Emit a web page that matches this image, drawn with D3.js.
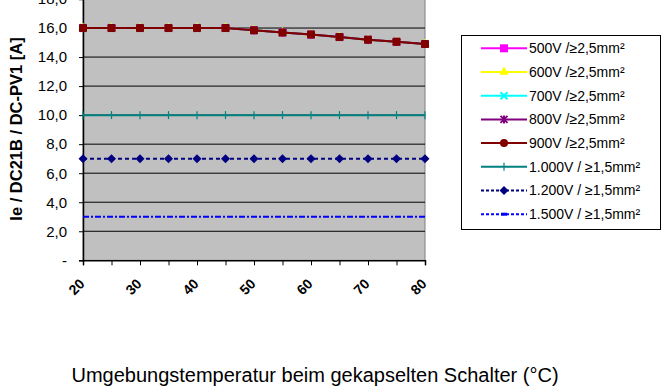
<!DOCTYPE html>
<html>
<head>
<meta charset="utf-8">
<script src="https://cdn.jsdelivr.net/npm/d3@7"></script>
<style>
  html, body { margin: 0; padding: 0; background: #fff; }
  svg { display: block; font-family: "Liberation Sans", Arial, sans-serif; }
</style>
</head>
<body>
<svg id="chart" width="662" height="387"></svg>
<script>
// Ambient temperature categories (°C)
const temperatures = [20, 25, 30, 35, 40, 45, 50, 55, 60, 65, 70, 75, 80];
const xTickLabels = [20, 30, 40, 50, 60, 70, 80];
const yTicks = [0, 2, 4, 6, 8, 10, 12, 14, 16, 18];

// Rated current per voltage / cable cross-section
const derated = [16, 16, 16, 16, 16, 16, 15.85, 15.7, 15.55, 15.38, 15.2, 15.05, 14.9];
const v500 = derated.slice();
const v600 = derated.slice();
const v700 = derated.slice();
const v800 = derated.slice();
const v900 = derated.slice();
const v1000 = [10, 10, 10, 10, 10, 10, 10, 10, 10, 10, 10, 10, 10];
const v1200 = [7, 7, 7, 7, 7, 7, 7, 7, 7, 7, 7, 7, 7];
const v1500 = [3, 3, 3, 3, 3, 3, 3, 3, 3, 3, 3, 3, 3];

const seriesNames = [
  "500V /≥2,5mm²", "600V /≥2,5mm²", "700V /≥2,5mm²", "800V /≥2,5mm²",
  "900V /≥2,5mm²", "1.000V / ≥1,5mm²", "1.200V / ≥1,5mm²", "1.500V / ≥1,5mm²"
];
const seriesValues = [v500, v600, v700, v800, v900, v1000, v1200, v1500];
const seriesStyles = [
  { color: "#FF00FF", marker: "square", dash: null },
  { color: "#FFFF00", marker: "triangle", dash: null },
  { color: "#00FFFF", marker: "cross", dash: null },
  { color: "#800080", marker: "star", dash: null },
  { color: "#800000", marker: "circle", dash: null },
  { color: "#008080", marker: "plus", dash: null },
  { color: "#000080", marker: "diamond", dash: "4,3" },
  { color: "#0000FF", marker: "none", dash: "6,2,2,2" }
];

const svg = d3.select("#chart");
const plot = { left: 83, right: 425, top: -1, bottom: 260.3 };

const x = d3.scalePoint().domain(temperatures).range([plot.left, plot.right]);
const y = d3.scaleLinear().domain([0, 18]).range([plot.bottom, plot.top]);

// Plot area
svg.append("rect")
  .attr("x", plot.left).attr("y", plot.top)
  .attr("width", plot.right - plot.left).attr("height", plot.bottom - plot.top)
  .attr("fill", "#C0C0C0").attr("stroke", "#808080").attr("stroke-width", 1);

// Horizontal grid lines
svg.append("g").selectAll("line")
  .data(yTicks.filter(d => d > 0))
  .join("line")
  .attr("x1", plot.left).attr("x2", plot.right)
  .attr("y1", d => y(d)).attr("y2", d => y(d))
  .attr("stroke", "#000").attr("stroke-width", 1);

// Y axis
const yAxis = d3.axisLeft(y).tickValues(yTicks).tickSize(4)
  .tickFormat(d => d === 0 ? "-" : d3.format(".1f")(d).replace(".", ","));
const gy = svg.append("g").attr("transform", `translate(${plot.left},0)`).call(yAxis);
gy.select(".domain").attr("stroke", "#000").attr("stroke-width", 1.5);
gy.selectAll(".tick line").attr("stroke", "#000");
gy.selectAll(".tick text").attr("font-size", 15).attr("fill", "#000").attr("x", -16)
  .attr("font-family", "Liberation Sans, Arial, sans-serif");

// X axis
const xAxis = d3.axisBottom(x).tickSize(5).tickFormat(() => "");
const gx = svg.append("g").attr("transform", `translate(0,${plot.bottom})`).call(xAxis);
gx.select(".domain").attr("stroke", "#000").attr("stroke-width", 1.5);
gx.selectAll(".tick line").attr("stroke", "#000");

svg.append("g").selectAll("text")
  .data(xTickLabels)
  .join("text")
  .attr("transform", d => `translate(${x(d) - 1},${plot.bottom + 21}) rotate(-45)`)
  .attr("text-anchor", "end")
  .attr("dy", "0.35em")
  .attr("font-size", 14).attr("font-weight", "bold")
  .text(d => d);

// Marker drawing
function drawMarker(g, type, color, cx, cy) {
  if (type === "square") {
    g.append("rect").attr("x", cx - 4).attr("y", cy - 4).attr("width", 8).attr("height", 8).attr("fill", color);
  } else if (type === "triangle") {
    g.append("path").attr("d", d3.symbol(d3.symbolTriangle, 40)()).attr("transform", `translate(${cx},${cy})`).attr("fill", color);
  } else if (type === "cross") {
    g.append("path").attr("d", `M${cx - 3.5},${cy - 3.5}L${cx + 3.5},${cy + 3.5}M${cx - 3.5},${cy + 3.5}L${cx + 3.5},${cy - 3.5}`)
      .attr("stroke", color).attr("stroke-width", 2);
  } else if (type === "star") {
    g.append("path").attr("d", `M${cx - 3.5},${cy - 3.5}L${cx + 3.5},${cy + 3.5}M${cx - 3.5},${cy + 3.5}L${cx + 3.5},${cy - 3.5}M${cx},${cy - 4}L${cx},${cy + 4}`)
      .attr("stroke", color).attr("stroke-width", 2);
  } else if (type === "circle") {
    g.append("rect").attr("x", cx - 4).attr("y", cy - 4).attr("width", 8).attr("height", 8).attr("rx", 1.5).attr("fill", color);
  } else if (type === "dot") {
    g.append("circle").attr("cx", cx).attr("cy", cy).attr("r", 4).attr("fill", color);
  } else if (type === "plus") {
    g.append("line").attr("x1", cx).attr("x2", cx).attr("y1", cy - 4).attr("y2", cy + 4).attr("stroke", color).attr("stroke-width", 1.2);
  } else if (type === "diamond") {
    g.append("path").attr("d", `M${cx},${cy - 4.5}L${cx + 4.5},${cy}L${cx},${cy + 4.5}L${cx - 4.5},${cy}Z`).attr("fill", color);
  }
}

// Series lines and markers
const line = d3.line().x((d, i) => x(temperatures[i])).y(d => y(d));
seriesValues.forEach((vals, si) => {
  const st = seriesStyles[si];
  const g = svg.append("g");
  g.append("path").datum(vals).attr("d", line)
    .attr("fill", "none").attr("stroke", st.color).attr("stroke-width", 2)
    .attr("stroke-dasharray", st.dash);
  vals.forEach((v, i) => drawMarker(g, st.marker, st.color, x(temperatures[i]), y(v)));
});

// Legend
const legend = svg.append("g");
legend.append("rect").attr("x", 461.5).attr("y", 35.5).attr("width", 199).attr("height", 194)
  .attr("fill", "#fff").attr("stroke", "#000").attr("stroke-width", 1);
seriesNames.forEach((name, i) => {
  const st = seriesStyles[i];
  const ly = 48.3 + i * 23.7;
  const g = legend.append("g");
  g.append("line").attr("x1", 481).attr("x2", 527).attr("y1", ly).attr("y2", ly)
    .attr("stroke", st.color).attr("stroke-width", 2).attr("stroke-dasharray", st.dash ? "3,2" : null);
  if (st.marker === "none") {
    g.append("rect").attr("x", 501).attr("y", ly - 1.5).attr("width", 6).attr("height", 3).attr("fill", st.color);
  } else {
    drawMarker(g, st.marker === "circle" ? "dot" : st.marker, st.color, 504, ly);
  }
  g.append("text").attr("x", 529).attr("y", ly).attr("dy", "0.35em")
    .attr("font-size", 14).attr("fill", "#000").text(name);
});

// Axis titles
svg.append("text")
  .attr("transform", "translate(22,129) rotate(-90)")
  .attr("text-anchor", "middle")
  .attr("font-size", 16.5).attr("font-weight", "bold")
  .text("Ie / DC21B / DC-PV1 [A]");

svg.append("text")
  .attr("x", 315).attr("y", 382)
  .attr("text-anchor", "middle")
  .attr("font-size", 20)
  .attr("font-family", "Liberation Sans, Arial, sans-serif")
  .text("Umgebungstemperatur beim gekapselten Schalter (°C)");
</script>
</body>
</html>
